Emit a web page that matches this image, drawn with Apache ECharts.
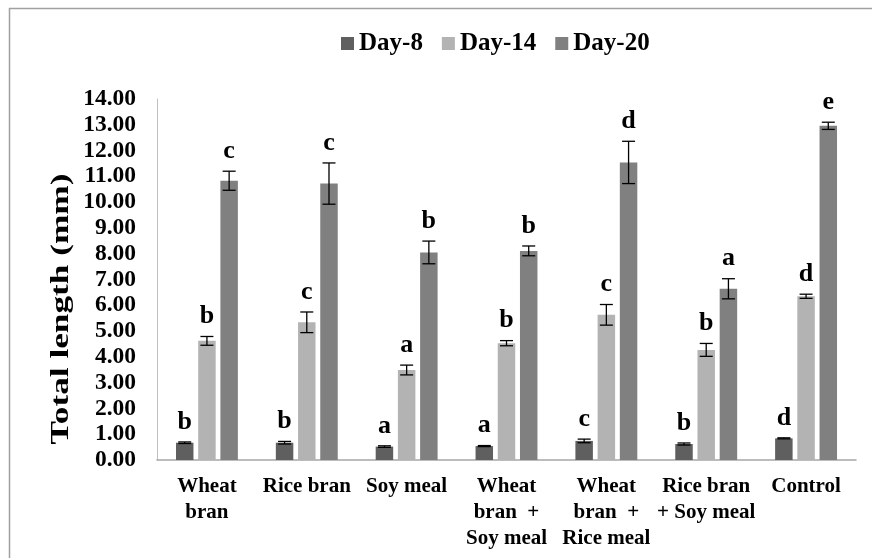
<!DOCTYPE html>
<html>
<head>
<meta charset="utf-8">
<script src="https://cdn.jsdelivr.net/npm/echarts@6/dist/echarts.min.js"></script>
<style>html,body{margin:0;padding:0;background:#fff;}#c{width:872px;height:558px;}</style>
</head>
<body>
<div id="c"></div>
<script>
var categories = ["Wheat\nbran", "Rice bran", "Soy meal", "Wheat\nbran  +\nSoy meal", "Wheat\nbran  +\nRice meal", "Rice bran\n+ Soy meal", "Control"];
var seriesNames = ["Day-8", "Day-14", "Day-20"];
var day8 = [0.67, 0.67, 0.52, 0.54, 0.74, 0.62, 0.84];
var day8Err = [0.03, 0.05, 0.03, 0.02, 0.07, 0.04, 0.02];
var day8Letters = ["b", "b", "a", "a", "c", "b", "d"];
var day14 = [4.62, 5.34, 3.49, 4.53, 5.63, 4.27, 6.35];
var day14Err = [0.17, 0.40, 0.19, 0.10, 0.40, 0.25, 0.08];
var day14Letters = ["b", "c", "a", "b", "c", "b", "d"];
var day20 = [10.83, 10.72, 8.05, 8.11, 11.54, 6.64, 12.96];
var day20Err = [0.37, 0.80, 0.44, 0.19, 0.82, 0.39, 0.14];
var day20Letters = ["c", "c", "b", "b", "d", "a", "e"];
var colors = ["#5f5f5f", "#b3b3b3", "#808080"];

var FONT = '"Liberation Serif", "Times New Roman", serif';
var CAT_GAP = 0.38, BAR_GAP = 0.27;

function barSeries(i, vals) {
  var s = {
    type: 'bar', name: seriesNames[i], data: vals,
    itemStyle: { color: colors[i] }, silent: true
  };
  if (i === 0) { s.barCategoryGap = (CAT_GAP * 100) + '%'; s.barGap = (BAR_GAP * 100) + '%'; }
  return s;
}

function errSeries(si, vals, errs, letters) {
  return {
    type: 'custom', name: seriesNames[si] + ' err', z: 10, silent: true,
    encode: { x: 0, y: 1 },
    data: vals.map(function (v, i) { return [i, v, errs[i]]; }),
    renderItem: function (params, api) {
      var ci = api.value(0), v = api.value(1), e = api.value(2);
      var band = api.size([1, 0])[0];
      var bw = band * (1 - CAT_GAP) / (3 + 2 * BAR_GAP);
      var off = (si - 1) * bw * (1 + BAR_GAP);
      var x = api.coord([ci, v])[0] + off;
      var top = api.coord([ci, v + e])[1];
      var bot = api.coord([ci, v - e])[1];
      var cap = 6.5;
      var st = { stroke: '#000', lineWidth: 1.3 };
      return {
        type: 'group', children: [
          { type: 'line', shape: { x1: x, y1: top, x2: x, y2: bot }, style: st },
          { type: 'line', shape: { x1: x - cap, y1: top, x2: x + cap, y2: top }, style: st },
          { type: 'line', shape: { x1: x - cap, y1: bot, x2: x + cap, y2: bot }, style: st },
          { type: 'text', x: x, y: top - 7, style: { text: letters[params.dataIndex], font: 'bold 26px ' + FONT, textAlign: 'center', textVerticalAlign: 'bottom', fill: '#000' } }
        ]
      };
    }
  };
}

var chart = echarts.init(document.getElementById('c'), null, { renderer: 'canvas' });
chart.setOption({
  animation: false,
  backgroundColor: '#fff',
  color: colors,
  legend: {
    data: seriesNames, left: 341, top: 31, padding: 0, itemWidth: 13, itemHeight: 13, itemGap: 19,
    icon: 'rect', selectedMode: false,
    textStyle: { fontFamily: FONT, fontWeight: 'bold', fontSize: 25, color: '#000' }
  },
  grid: { left: 157, right: 16, top: 99, bottom: 98, containLabel: false },
  xAxis: {
    type: 'category', data: categories,
    axisLine: { lineStyle: { color: '#a6a6a6', width: 1.5 } },
    axisTick: { show: false },
    axisLabel: { interval: 0, margin: 14, fontFamily: FONT, fontWeight: 'bold', fontSize: 21, lineHeight: 26, color: '#000', align: 'center' }
  },
  yAxis: {
    type: 'value', min: 0, max: 14, interval: 1,
    axisLine: { show: true, lineStyle: { color: '#bfbfbf', width: 1 } },
    axisTick: { show: false },
    splitLine: { show: false },
    axisLabel: { margin: 21, fontFamily: FONT, fontWeight: 'bold', fontSize: 23.5, color: '#000', formatter: function (v) { return v.toFixed(2); } }
  },
  graphic: [
    { type: 'line', shape: { x1: 9, y1: 8.5, x2: 872, y2: 8.5 }, style: { stroke: '#a0a0a0', lineWidth: 1.5 } },
    { type: 'line', shape: { x1: 9.5, y1: 8, x2: 9.5, y2: 558 }, style: { stroke: '#a0a0a0', lineWidth: 1.5 } },
    { type: 'text', x: 61.5, y: 309, rotation: Math.PI / 2, scaleX: 1.41, scaleY: 1,
      style: { text: 'Total length (mm)', font: 'bold 25px ' + FONT, textAlign: 'center', textVerticalAlign: 'middle', fill: '#000' } }
  ],
  series: [
    barSeries(0, day8), barSeries(1, day14), barSeries(2, day20),
    errSeries(0, day8, day8Err, day8Letters),
    errSeries(1, day14, day14Err, day14Letters),
    errSeries(2, day20, day20Err, day20Letters)
  ]
});
</script>
</body>
</html>
